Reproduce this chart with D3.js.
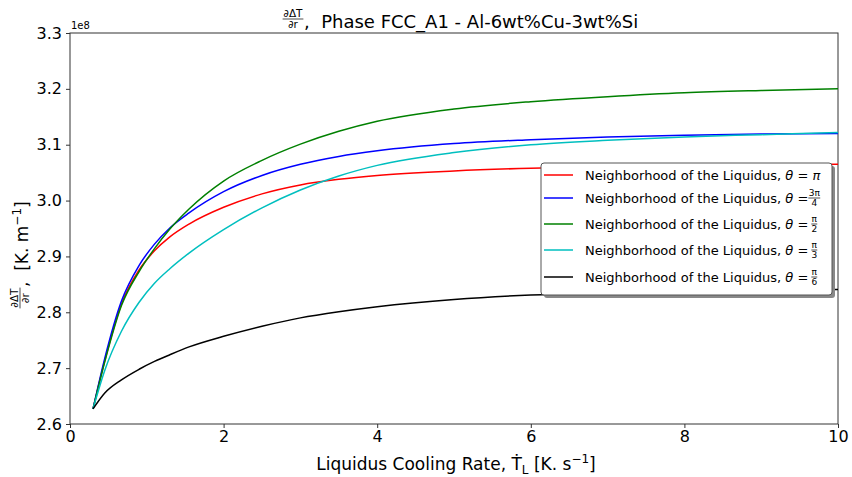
<!DOCTYPE html>
<html><head><meta charset="utf-8">
<script src="https://cdn.jsdelivr.net/npm/d3@7"></script>
<style>body{margin:0;background:#fff;} text{font-family:"DejaVu Sans",sans-serif;}</style>
</head><body>
<svg id="c" width="852" height="477"></svg>
<script>
const xs = [0.3,0.45,0.67,0.9,1.1,1.3,1.55,2.0,2.5,3.0,3.5,4.0,5.0,6.0,7.0,8.0,9.0,10.0];
const redVals   = [2.627,2.712,2.815,2.876,2.91,2.935,2.958,2.988,3.012,3.028,3.038,3.045,3.053,3.058,3.061,3.063,3.064,3.065];
const blueVals  = [2.627,2.716,2.82,2.884,2.922,2.951,2.978,3.016,3.045,3.065,3.079,3.089,3.102,3.109,3.114,3.117,3.119,3.12];
const greenVals = [2.627,2.71,2.812,2.873,2.914,2.949,2.985,3.035,3.072,3.101,3.124,3.142,3.164,3.177,3.186,3.193,3.197,3.20];
const cyanVals  = [2.627,2.695,2.766,2.818,2.852,2.878,2.906,2.948,2.987,3.019,3.044,3.063,3.086,3.10,3.108,3.114,3.118,3.122];
const blackVals = [2.627,2.655,2.679,2.698,2.712,2.724,2.738,2.757,2.775,2.79,2.801,2.81,2.823,2.831,2.835,2.838,2.84,2.841];
const seriesNames = ["π","3π/4","π/2","π/3","π/6"];
const seriesColors = ["#ff0000","#0000ff","#008000","#00bfbf","#000000"];
const xTicks = [0,2,4,6,8,10];
const yTicks = [2.6,2.7,2.8,2.9,3.0,3.1,3.2,3.3];

const series = [redVals,blueVals,greenVals,cyanVals,blackVals];
const svg = d3.select("#c");
const L=70,R=838,T=33,B=424;
const x = d3.scaleLinear().domain([0,10]).range([L,R]);
const y = d3.scaleLinear().domain([2.6,3.3]).range([B,T]);

// axes
const xa = svg.append("g").attr("transform",`translate(0,${B})`)
  .call(d3.axisBottom(x).tickValues(xTicks).tickFormat(d3.format("d")).tickSize(4).tickPadding(3));
const ya = svg.append("g").attr("transform",`translate(${L},0)`)
  .call(d3.axisLeft(y).tickValues(yTicks).tickFormat(d3.format(".1f")).tickSize(4).tickPadding(4));
[xa,ya].forEach(a=>{a.select(".domain").remove();a.selectAll("text").attr("font-size",16).attr("fill","#000").style("font-family","DejaVu Sans");a.selectAll("line").attr("stroke","#333");});
// frame
svg.append("rect").attr("x",L).attr("y",T).attr("width",R-L).attr("height",B-T).attr("fill","none").attr("stroke","#333").attr("stroke-width",1);

svg.append("text").attr("x",L+1).attr("y",T-4).attr("font-size",10).text("1e8");

// lines
const line = d3.line().x((d,i)=>x(xs[i])).y(d=>y(d)).curve(d3.curveMonotoneX);
svg.append("clipPath").attr("id","cl").append("rect").attr("x",L).attr("y",T).attr("width",R-L).attr("height",B-T);
series.forEach((s,i)=>{
  svg.append("path").attr("d",line(s)).attr("fill","none").attr("stroke",seriesColors[i]).attr("stroke-width",1.5).attr("clip-path","url(#cl)");
});

function frac(g, cx, cy, num, den, fs){
  g.append("text").attr("x",cx).attr("y",cy-2).attr("text-anchor","middle").attr("font-size",fs).text(num);
  g.append("line").attr("x1",cx-(num.length*fs*0.33)).attr("x2",cx+(num.length*fs*0.33)).attr("y1",cy).attr("y2",cy).attr("stroke","#000").attr("stroke-width",0.7);
  g.append("text").attr("x",cx).attr("y",cy+fs*0.85).attr("text-anchor","middle").attr("font-size",fs).text(den);
}

// title
const tg = svg.append("g");
frac(tg, 293, 19, "∂ΔT", "∂r", 10.5);
tg.append("text").attr("x",304).attr("y",28).attr("font-size",18).text(",\u00a0 Phase FCC_A1 - Al-6wt%Cu-3wt%Si");

// y label
const yg = svg.append("g").attr("transform","translate(24,230) rotate(-90)");
frac(yg, -68, -4, "∂ΔT", "∂r", 10.5);
const yt = yg.append("text").attr("x",-57).attr("y",4).attr("font-size",17);
yt.append("tspan").text(",\u00a0 [K. m");
yt.append("tspan").attr("font-size",12).attr("dy",-7).text("−1");
yt.append("tspan").attr("dy",7).text("]");

// x label
const xl = svg.append("text").attr("x",(L+R)/2+2).attr("y",470).attr("text-anchor","middle").attr("font-size",17);
xl.append("tspan").text("Liquidus Cooling Rate, Ṫ");
xl.append("tspan").attr("font-size",12).attr("dy",4).text("L");
xl.append("tspan").attr("dy",-4).text(" [K. s");
xl.append("tspan").attr("font-size",12).attr("dy",-7).text("−1");
xl.append("tspan").attr("dy",7).text("]");

// legend
const lg = svg.append("g");
lg.append("rect").attr("x",544).attr("y",166).attr("width",291).attr("height",132).attr("fill","#888").attr("rx",3);
lg.append("rect").attr("x",541).attr("y",163).attr("width",291).attr("height",132).attr("fill","#fff").attr("stroke","#555").attr("rx",3);
const rowsY=[175,198,224,250,277];
const legFracs=[null,["3π","4"],["π","2"],["π","3"],["π","6"]];
series.forEach((s,i)=>{
  const ry=rowsY[i];
  lg.append("line").attr("x1",544).attr("x2",573).attr("y1",ry).attr("y2",ry).attr("stroke",seriesColors[i]).attr("stroke-width",1.5);
  const t = lg.append("text").attr("x",585).attr("y",ry+5).attr("font-size",13);
  t.append("tspan").text("Neighborhood of the Liquidus, ");
  t.append("tspan").attr("font-style","italic").text("θ");
  t.append("tspan").text(" = ");
  if(i===0){ t.append("tspan").attr("font-style","italic").text("π"); }
  else {
    const bb=t.node().getBBox();
    frac(lg, bb.x+bb.width+6, ry, legFracs[i][0], legFracs[i][1], 9);
  }
});
</script>
</body></html>
